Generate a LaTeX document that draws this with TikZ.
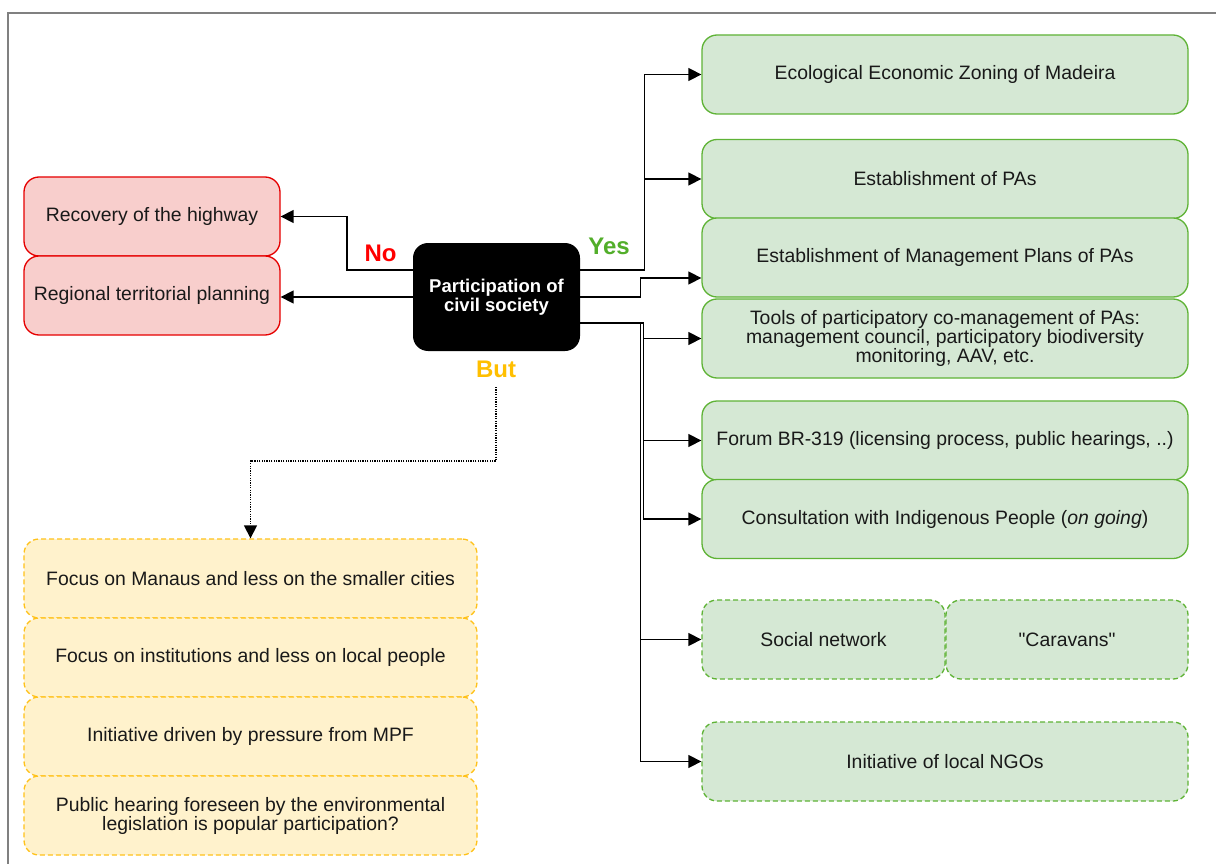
\documentclass[tikz,border=0pt]{standalone}
\usepackage{fontspec}
\setmainfont{Liberation Sans}
% same face without TeX input mapping, so straight quotes stay straight
\newfontfamily\plainquotes{Liberation Sans}
\usetikzlibrary{arrows.meta}
\definecolor{redline}{HTML}{E60000}
\definecolor{redfill}{HTML}{F8CECC}
\definecolor{greenline}{HTML}{5FB336}
\definecolor{greenfill}{HTML}{D5E8D4}
\definecolor{yelline}{HTML}{FFC21A}
\definecolor{yelfill}{HTML}{FFF2CC}
\definecolor{yestext}{HTML}{52AE2A}
\definecolor{buttext}{HTML}{FFBF00}
\definecolor{frame}{HTML}{808080}
\begin{document}
\begin{tikzpicture}[x=1pt,y=-1pt,
  base/.style={rounded corners=15pt, line width=1.3pt, align=center, inner sep=0pt,
    font=\fontsize{19.4}{19}\selectfont, text=black!90},
  nobox/.style={base, draw=redline, fill=redfill, minimum width=256pt, minimum height=79pt},
  yesbox/.style={base, draw=greenline, fill=greenfill, minimum width=486pt, minimum height=79pt},
  halfbox/.style={yesbox, dash pattern=on 5pt off 3pt, minimum width=243pt},
  wideweak/.style={yesbox, dash pattern=on 5pt off 3pt},
  butbox/.style={base, draw=yelline, fill=yelfill, dash pattern=on 5pt off 3pt,
    minimum width=453pt, minimum height=79pt},
  hub/.style={rounded corners=15pt, fill=black, text=white, align=center, inner sep=0pt,
    minimum width=167pt, minimum height=108pt, font=\fontsize{18.5}{19}\selectfont\bfseries},
  tag/.style={font=\fontsize{24}{24}\selectfont\bfseries, inner sep=0pt},
  conn/.style={line width=1.4pt, -{Triangle[length=13pt,width=13pt]}},
  dotconn/.style={line width=1.3pt, dash pattern=on 1.2pt off 1.2pt,
    -{Triangle[length=13pt,width=13pt]}}
]
\useasboundingbox (0,0) rectangle (1216,864);
\fill[white] (0,0) rectangle (1216,864);
% outer frame
\draw[frame, line width=2pt] (8,864) -- (8,13) -- (1216,13);

% central node
\node[hub] (c) at (496.5,297) {Participation of\\civil society};

% negative outcomes
\node[nobox] (r1) at (152,216.5) {Recovery of the highway};
\node[nobox] (r2) at (152,295.5) {Regional territorial planning};

% positive outcomes
\node[yesbox] (g1) at (945,74.5) {Ecological Economic Zoning of Madeira};
\node[yesbox] (g2) at (945,179) {Establishment of PAs};
\node[yesbox] (g3) at (945,257.5) {Establishment of Management Plans of PAs};
\node[yesbox] (g4) at (945,338.5) {Tools of participatory co-management of PAs:\\management council, participatory biodiversity\\monitoring, AAV, etc.};
\node[yesbox] (g5) at (945,440.5) {Forum BR-319 (licensing process, public hearings, ..)};
\node[yesbox] (g6) at (945,519) {Consultation with Indigenous People (\textit{on going})};
\node[halfbox] (g7) at (823.5,639.5) {Social network};
\node[halfbox, minimum width=242pt] (g8) at (1067,639.5) {\plainquotes "Caravans"};
\node[wideweak] (g9) at (945,761.5) {Initiative of local NGOs};

% reservations
\node[butbox] (y1) at (250.5,578.5) {Focus on Manaus and less on the smaller cities};
\node[butbox] (y2) at (250.5,657.5) {Focus on institutions and less on local people};
\node[butbox] (y3) at (250.5,736.5) {Initiative driven by pressure from MPF};
\node[butbox] (y4) at (250.5,815.5) {Public hearing foreseen by the environmental\\legislation is popular participation?};

% branch labels
\node[tag, text=red] (no) at (380.5,253) {No};
\node[tag, text=yestext] (yes) at (609,246) {Yes};
\node[tag, text=buttext] (but) at (496,369.5) {But};

% connectors: no
\draw[conn] ([yshift=27pt]c.west) -- ++(-66,0) |- (r1.east);
\draw[conn] (c.west) -- (c.west -| r2.east);

% connectors: yes
\draw[conn] ([yshift=27pt]c.east) -- ++(64,0) |- (g1.west);
\draw[conn] ([yshift=27pt]c.east) -- ++(64,0) |- (g2.west);
\draw[conn] (c.east) -- ++(60,0) |- ([yshift=-20.5pt]g3.west);
\draw[conn] ([yshift=-26pt]c.east) -- ++(63,0) |- (g4.west);
\draw[conn] ([yshift=-26pt]c.east) -- ++(63,0) |- (g5.west);
\draw[conn] ([yshift=-26pt]c.east) -- ++(63,0) |- (g6.west);
\draw[conn] ([yshift=-26pt]c.east) -- ++(60,0) |- (g7.west);
\draw[conn] ([yshift=-26pt]c.east) -- ++(60,0) |- (g9.west);

% connector: but
\draw[dotconn] ([yshift=-9pt]but.south) -- ++(0,74) -| (y1.north);
\end{tikzpicture}
\end{document}
